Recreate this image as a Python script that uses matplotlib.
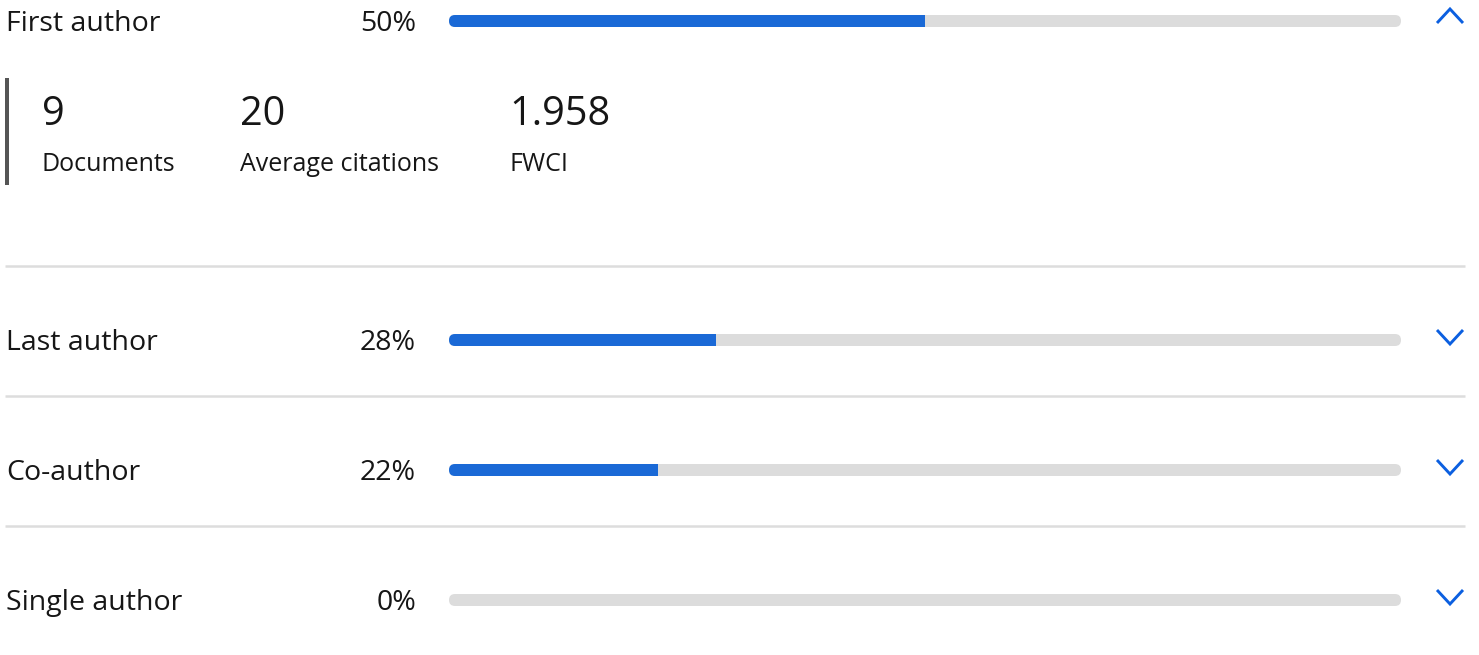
import matplotlib.pyplot as plt
from matplotlib.patches import FancyBboxPatch, Rectangle

plt.rcParams['font.family'] = ['Open Sans', 'DejaVu Sans']

roles = ['First author', 'Last author', 'Co-author', 'Single author']
shares = [50, 28, 22, 0]
expanded = [True, False, False, False]

stat_values = ['9', '20', '1.958']
stat_labels = ['Documents', 'Average citations', 'FWCI']

W, H = 1479, 655
blue = '#1a69d6'
track = '#dcdcdc'
chev = '#0b5fe0'
ink = '#161616'

fig = plt.figure(figsize=(W / 100, H / 100), dpi=100)
base = fig.add_axes([0, 0, 1, 1])
base.set_xlim(0, W)
base.set_ylim(H, 0)
base.axis('off')

row_y = [21, 340, 470, 600]
bar_x0, bar_x1, bar_h = 449, 1401, 12

for i, (role, pct) in enumerate(zip(roles, shares)):
    y = row_y[i]
    base.text(6, y + 10, role, fontsize=20.5, color=ink, va='baseline', ha='left')
    base.text(416, y + 10, f'{pct}%', fontsize=20.5, color=ink, va='baseline', ha='right')

    # progress track, one small axes per row so the fill follows the data scale
    ax = fig.add_axes([bar_x0 / W, 1 - (y + bar_h / 2) / H,
                       (bar_x1 - bar_x0) / W, bar_h / H])
    ax.set_xlim(0, 100)
    ax.set_ylim(-0.5, 0.5)
    ax.axis('off')
    px_per_unit = (bar_x1 - bar_x0) / 100
    r = (bar_h / 2) / px_per_unit
    shape = FancyBboxPatch((0, -0.5), 100, 1, boxstyle=f'round,pad=0,rounding_size={r}',
                           mutation_aspect=0.5 / r, fc=track, ec='none')
    ax.add_patch(shape)
    bars = ax.barh(0, pct, height=1, color=blue, left=0)
    for b in bars:
        b.set_clip_path(shape)

    # chevron toggle
    cx = 1450
    if expanded[i]:
        base.plot([cx - 13, cx, cx + 13], [y + 2, y - 12, y + 2], color=chev, lw=2.1,
                  solid_joinstyle='miter', solid_capstyle='butt')
    else:
        base.plot([cx - 13, cx, cx + 13], [y - 10, y + 4, y - 10], color=chev, lw=2.1,
                  solid_joinstyle='miter', solid_capstyle='butt')

# expanded detail block for the first row
base.add_patch(Rectangle((5, 78), 4, 107, fc='#555555', ec='none'))
stat_x = [42, 240, 509]
for x, v, lab in zip(stat_x, stat_values, stat_labels):
    base.text(x, 125, v, fontsize=28.5, color=ink, va='baseline', ha='left')
    base.text(x, 171, lab, fontsize=18, color=ink, va='baseline', ha='left')

# row separators
for y in [266, 396, 526]:
    base.plot([5, 1465], [y, y], color='#dddddd', lw=1.8, solid_capstyle='butt')

fig.savefig('out.png', dpi=100, facecolor='white')
